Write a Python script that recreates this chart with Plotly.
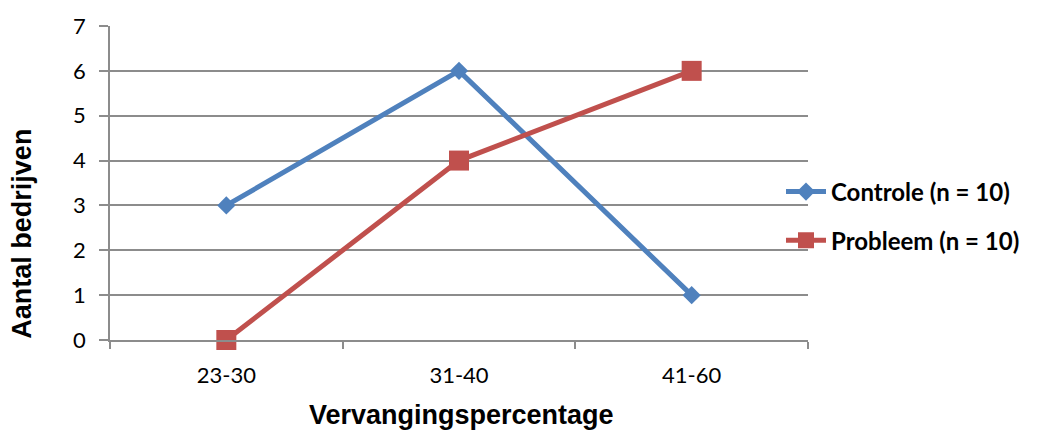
import plotly.graph_objects as go

categories = ["23-30", "31-40", "41-60"]
controle = [3, 6, 1]
probleem = [0, 4, 6]
series_names = ["Controle (n = 10)", "Probleem (n = 10)"]

BLUE = "#4F81BD"
RED = "#C0504D"
GRID = "#8C8C8C"

W, H = 1040, 433
L, R, T, B = 110, 232, 24, 93
pw, ph = W - L - R, H - T - B


def px_x(x):
    return (x - L) / pw


def px_y(y):
    return (H - B - y) / ph


fig = go.Figure()
fig.add_trace(go.Scatter(
    x=categories, y=controle, name=series_names[0], mode="lines+markers",
    line=dict(color=BLUE, width=5),
    marker=dict(symbol="diamond", size=14, color=BLUE),
    cliponaxis=False, legend="legend",
))
fig.add_trace(go.Scatter(
    x=categories, y=probleem, name=series_names[1], mode="lines+markers",
    line=dict(color=RED, width=5),
    marker=dict(symbol="square", size=20, color=RED),
    cliponaxis=False, legend="legend2",
))

legend_font = dict(family="Lato, Open Sans, sans-serif", size=24, color="black", weight="bold")
title_font = dict(family="Liberation Sans, Arial, sans-serif", size=27, color="black")

fig.update_layout(
    width=W, height=H,
    margin=dict(l=L, r=R, t=T, b=B),
    paper_bgcolor="white", plot_bgcolor="white",
    showlegend=True,
    font=dict(family="Lato, Open Sans, sans-serif", size=22, color="black"),
    legend=dict(x=px_x(781), y=px_y(191), xanchor="left", yanchor="middle",
                font=legend_font, bgcolor="rgba(0,0,0,0)", itemwidth=40),
    legend2=dict(x=px_x(781), y=px_y(240), xanchor="left", yanchor="middle",
                 font=legend_font, bgcolor="rgba(0,0,0,0)", itemwidth=40),
    xaxis=dict(
        type="category", tickson="boundaries", ticks="outside", ticklen=7,
        tickcolor=GRID, tickwidth=1.5, showgrid=False, showline=True,
        linecolor=GRID, linewidth=1.5, ticklabelstandoff=15,
        tickfont=dict(size=22), range=[-0.5, 2.5],
    ),
    yaxis=dict(
        range=[0, 7], dtick=1, ticks="outside", ticklen=9, tickcolor=GRID,
        tickwidth=1.5, showgrid=True, gridcolor=GRID, gridwidth=1.5,
        showline=True, linecolor=GRID, linewidth=1.5, zeroline=False,
        ticklabelstandoff=9, tickfont=dict(size=22),
    ),
    annotations=[
        dict(text="<b>Aantal bedrijven</b>", x=px_x(22), y=px_y(233),
             xref="paper", yref="paper", xanchor="center", yanchor="middle",
             showarrow=False, textangle=-90, font=title_font),
        dict(text="<b>Vervangingspercentage</b>", x=px_x(461), y=px_y(415),
             xref="paper", yref="paper", xanchor="center", yanchor="middle",
             showarrow=False, font=title_font),
    ],
)

fig.write_html("out.html")
